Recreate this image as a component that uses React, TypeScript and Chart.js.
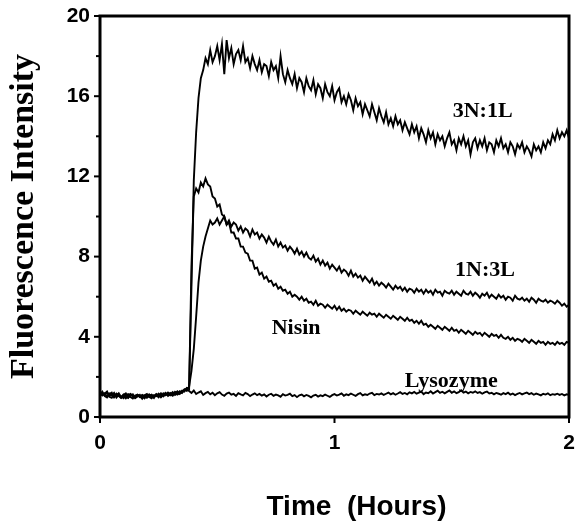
import React, { useEffect, useRef } from "react";
import { Chart, registerables } from "chart.js";

Chart.register(...registerables);

// Sampling: one reading every 0.01 h from 0 to 2 h
const T_START = 0;
const T_STEP = 0.01;

const N3L1: number[] = [
  1.25, 1.08, 1.18, 1.02, 1.15, 1.22, 0.98, 1.12, 1.05, 0.95,
  1.10, 1.18, 0.97, 1.06, 1.13, 0.94, 1.02, 1.11, 0.96, 1.08,
  1.15, 1.00, 0.93, 1.09, 1.04, 1.16, 0.99, 1.12, 1.21, 1.05,
  1.14, 1.24, 1.10, 1.18, 1.29, 1.20, 1.35, 1.42, 1.50, 6.5,
  11.8, 14.2, 15.9, 16.9, 17.3, 17.9, 17.6, 18.3, 17.7, 18.0,
  18.5, 17.8, 18.6, 17.1, 18.8, 17.9, 18.4, 17.6, 18.1, 18.3,
  17.8, 18.5, 17.7, 17.9, 17.4, 18.0, 17.6, 17.3, 17.8, 17.2,
  17.6, 17.5, 17.0, 17.7, 17.3, 17.5, 16.9, 18.0, 17.1, 16.7,
  17.3, 16.9, 16.6, 17.1, 16.4, 16.9, 16.7, 16.2, 16.9, 16.5,
  16.3, 16.8, 16.1, 16.6, 16.4, 15.9, 16.6, 16.2, 16.0, 16.5,
  15.8, 16.2, 16.4, 15.7, 16.0, 15.6, 16.1, 15.8, 15.3, 15.9,
  15.5, 15.7, 15.1, 15.6, 15.3, 15.0, 15.6, 15.2, 14.8, 15.4,
  15.0, 14.7, 15.2, 14.6, 14.9, 14.5, 15.0, 14.6, 14.8, 14.3,
  14.7, 14.4, 14.1, 14.6, 14.2, 14.5, 13.9, 14.4, 14.1, 13.7,
  14.3, 13.9, 14.2, 13.6, 14.1, 13.8, 14.0, 13.5, 13.9, 14.2,
  13.6, 13.8, 13.3, 13.9, 13.6, 14.0, 13.5, 13.8, 13.1, 13.7,
  13.9, 13.4, 13.8, 13.5, 13.9, 13.3, 13.7, 13.6, 13.2, 13.8,
  13.5, 13.9, 13.4, 13.6, 13.2, 13.7, 13.5, 13.1, 13.6, 13.4,
  13.7, 13.2, 13.5, 13.3, 13.0, 13.6, 13.3, 13.5, 13.2, 13.7,
  13.4, 13.8, 13.6, 14.1, 13.8, 14.3, 13.9, 14.2, 14.0, 14.3,
  13.9,
];

const N1L3: number[] = [
  1.05, 1.19, 1.10, 1.24, 1.01, 0.96, 1.14, 1.07, 1.18, 0.99,
  1.04, 0.93, 1.07, 1.15, 1.02, 0.96, 1.10, 1.04, 0.91, 1.06,
  1.01, 1.11, 1.06, 0.95, 1.12, 1.08, 1.18, 1.03, 1.14, 1.10,
  1.20, 1.09, 1.17, 1.28, 1.15, 1.24, 1.38, 1.30, 1.52, 2.3,
  3.4, 5.0, 6.7, 7.8, 8.5, 9.0, 9.4, 9.8, 9.6, 9.7,
  9.9, 9.6, 9.8, 10.0, 9.6, 9.8, 9.5, 9.7, 9.6, 9.3,
  9.5, 9.2, 9.4, 9.3, 9.0, 9.35, 9.1, 9.2, 8.9, 9.1,
  8.95, 8.7, 9.0, 8.75, 8.6, 8.85, 8.5, 8.7, 8.45, 8.55,
  8.3, 8.5, 8.35, 8.15, 8.4, 8.1, 8.25, 8.0, 8.2, 7.95,
  7.85, 8.05, 7.75, 7.9, 7.6, 7.8, 7.55, 7.7, 7.4, 7.6,
  7.45, 7.3, 7.5, 7.2, 7.35, 7.25, 7.05, 7.3, 7.0, 7.15,
  6.95, 7.05, 6.8, 7.0, 6.85, 6.7, 6.9, 6.6, 6.75, 6.55,
  6.7, 6.6, 6.45, 6.65, 6.5, 6.35, 6.55, 6.4, 6.5, 6.3,
  6.45, 6.25, 6.4, 6.35, 6.2, 6.4, 6.25, 6.35, 6.15, 6.35,
  6.2, 6.3, 6.1, 6.35, 6.2, 6.25, 6.05, 6.3, 6.2, 6.15,
  6.3, 6.1, 6.25, 6.15, 6.05, 6.3, 6.15, 6.1, 6.25, 6.05,
  6.2, 6.1, 5.95, 6.15, 6.05, 6.2, 5.95, 6.1, 6.0, 5.9,
  6.1, 5.95, 6.05, 5.85, 6.0, 5.95, 5.8, 6.05, 5.9, 5.85,
  5.95, 5.8, 5.9, 5.75, 5.95, 5.85, 5.7, 5.9, 5.8, 5.75,
  5.85, 5.7, 5.8, 5.75, 5.65, 5.8, 5.7, 5.55, 5.65, 5.5,
  5.6,
];

const NISIN: number[] = [
  1.12, 1.26, 1.05, 0.98, 1.17, 1.08, 1.20, 0.97, 1.10, 1.03,
  0.94, 1.09, 1.14, 1.00, 0.92, 1.07, 1.12, 0.99, 1.05, 0.93,
  1.08, 1.13, 0.97, 1.03, 1.15, 1.07, 1.01, 1.18, 1.09, 1.22,
  1.13, 1.06, 1.25, 1.17, 1.21, 1.32, 1.27, 1.45, 1.40, 7.5,
  11.0, 11.4, 11.2, 11.7, 11.5, 11.9, 11.6, 11.5, 11.0, 10.9,
  10.5, 10.6, 10.1, 10.0, 9.6, 9.7, 9.2, 9.2, 8.9, 8.9,
  8.5, 8.5, 8.2, 8.15, 7.8, 7.8, 7.4, 7.45, 7.1, 7.2,
  6.9, 7.0, 6.75, 6.8, 6.55, 6.65, 6.4, 6.5, 6.3, 6.35,
  6.15, 6.25, 6.0, 6.1, 6.0, 5.85, 6.0, 5.8, 5.9, 5.7,
  5.75, 5.6, 5.8, 5.55, 5.65, 5.6, 5.45, 5.6, 5.5, 5.4,
  5.55, 5.35, 5.5, 5.3, 5.4, 5.25, 5.35, 5.3, 5.15, 5.3,
  5.2, 5.1, 5.25, 5.15, 5.05, 5.2, 5.1, 5.15, 5.0, 5.15,
  5.05, 4.95, 5.1, 5.0, 4.9, 5.05, 4.95, 4.85, 5.0, 4.9,
  4.8, 4.95, 4.8, 4.85, 4.7, 4.8, 4.65, 4.8, 4.6, 4.65,
  4.5, 4.6, 4.5, 4.4, 4.55, 4.45, 4.35, 4.5, 4.4, 4.3,
  4.45, 4.3, 4.35, 4.2, 4.35, 4.25, 4.15, 4.3, 4.2, 4.1,
  4.25, 4.15, 4.2, 4.05, 4.2, 4.1, 4.0, 4.15, 4.05, 4.1,
  3.95, 4.1, 3.95, 3.9, 4.0, 3.85, 3.95, 3.8, 3.9, 3.85,
  3.75, 3.9, 3.8, 3.7, 3.85, 3.75, 3.65, 3.8, 3.7, 3.75,
  3.6, 3.75, 3.65, 3.7, 3.6, 3.75, 3.65, 3.7, 3.6, 3.75,
  3.7,
];

const LYSOZYME: number[] = [
  1.20, 1.09, 1.16, 1.27, 1.04, 1.13, 1.00, 1.17, 1.08, 0.97,
  1.12, 1.03, 0.95, 1.14, 1.05, 0.99, 1.09, 1.01, 1.10, 1.04,
  0.96, 1.06, 1.12, 1.02, 1.09, 0.98, 1.15, 1.06, 1.11, 1.19,
  1.08, 1.16, 1.23, 1.12, 1.19, 1.26, 1.32, 1.40, 1.30, 1.20,
  1.32, 1.15, 1.22, 1.28, 1.10, 1.19, 1.25, 1.13, 1.21, 1.09,
  1.18, 1.24, 1.12, 1.06, 1.17, 1.22, 1.11, 1.15, 1.05, 1.19,
  1.13, 1.08, 1.20, 1.14, 1.04, 1.12, 1.18, 1.09, 1.15, 1.07,
  1.13, 1.02, 1.11, 1.16, 1.06, 1.12, 1.08, 1.01, 1.14, 1.07,
  1.10, 1.16, 1.04, 1.09, 0.99, 1.08, 1.12, 1.03, 1.10, 1.05,
  0.98, 1.07, 1.11, 1.02, 1.08, 1.04, 1.12, 1.06, 1.00, 1.09,
  1.14, 1.07, 1.12, 1.18, 1.06, 1.13, 1.09, 1.17, 1.11, 1.05,
  1.14, 1.19, 1.08, 1.13, 1.10, 1.17, 1.21, 1.09, 1.15, 1.12,
  1.18, 1.10, 1.16, 1.22, 1.13, 1.19, 1.11, 1.17, 1.24, 1.15,
  1.20, 1.13, 1.23, 1.18, 1.25, 1.16, 1.21, 1.27, 1.14, 1.22,
  1.19, 1.28, 1.17, 1.24, 1.31, 1.20, 1.26, 1.18, 1.25, 1.32,
  1.21, 1.28, 1.19, 1.24, 1.33, 1.22, 1.27, 1.18, 1.25, 1.21,
  1.28, 1.20, 1.24, 1.16, 1.23, 1.27, 1.17, 1.21, 1.13, 1.20,
  1.16, 1.11, 1.19, 1.14, 1.21, 1.12, 1.17, 1.09, 1.15, 1.20,
  1.13, 1.18, 1.22, 1.14, 1.19, 1.11, 1.17, 1.13, 1.08, 1.16,
  1.12, 1.18, 1.09, 1.14, 1.11, 1.16, 1.10, 1.15, 1.08, 1.13,
  1.10,
];

const SERIES_NAMES = ["3N:1L", "1N:3L", "Nisin", "Lysozyme"];
const Y_TICKS = [0, 4, 8, 12, 16, 20];
const X_TICKS = [0, 1, 2];

// Curve labels: text anchored (left, baseline) at data coordinates
const CURVE_LABELS = [
  { text: "3N:1L", x: 1.504, y: 14.98 },
  { text: "1N:3L", x: 1.514, y: 7.03 },
  { text: "Nisin", x: 0.732, y: 4.14 },
  { text: "Lysozyme", x: 1.3, y: 1.51 },
];

const X_TITLE = "Time  (Hours)";
const Y_TITLE = "Fluorescence Intensity";

const toPoints = (vals: number[]) =>
  vals.map((v, i) => ({ x: T_START + i * T_STEP, y: v }));

const decorPlugin = {
  id: "decor",
  afterDraw(chart: any) {
    const { ctx, chartArea } = chart;
    const xs = chart.scales.x;
    const ys = chart.scales.y;
    const { left, right, top, bottom } = chartArea;
    ctx.save();
    ctx.strokeStyle = "#000";
    ctx.fillStyle = "#000";
    // frame
    ctx.lineWidth = 3;
    ctx.strokeRect(left, top, right - left, bottom - top);
    // y ticks (major + minor)
    ctx.lineWidth = 2;
    for (let v = 0; v <= 20; v += 2) {
      const py = ys.getPixelForValue(v);
      const len = v % 4 === 0 ? 6 : 4;
      ctx.beginPath();
      ctx.moveTo(left - len, py);
      ctx.lineTo(left, py);
      ctx.stroke();
    }
    X_TICKS.forEach((v) => {
      const px = xs.getPixelForValue(v);
      ctx.beginPath();
      ctx.moveTo(px, bottom);
      ctx.lineTo(px, bottom + 6);
      ctx.stroke();
    });
    // curve labels
    ctx.font = 'bold 22px "Liberation Serif", "Times New Roman", serif';
    ctx.textAlign = "left";
    ctx.textBaseline = "alphabetic";
    CURVE_LABELS.forEach((l) => {
      ctx.fillText(l.text, xs.getPixelForValue(l.x), ys.getPixelForValue(l.y));
    });
    // x title
    ctx.font = 'bold 28px "Liberation Sans", Arial, sans-serif';
    ctx.textAlign = "center";
    ctx.fillText(X_TITLE, (left + right) / 2 + 22, bottom + 98);
    // y title
    ctx.save();
    ctx.translate(left - 67, (top + bottom) / 2);
    ctx.rotate(-Math.PI / 2);
    ctx.font = 'bold 34px "Liberation Serif", "Times New Roman", serif';
    ctx.textAlign = "center";
    ctx.textBaseline = "alphabetic";
    ctx.fillText(Y_TITLE, 0, 0);
    ctx.restore();
    ctx.restore();
  },
};

export default function App() {
  const ref = useRef<HTMLCanvasElement | null>(null);
  useEffect(() => {
    if (!ref.current) return;
    const seriesVals = [N3L1, N1L3, NISIN, LYSOZYME];
    const chart = new Chart(ref.current, {
      type: "line",
      data: {
        datasets: seriesVals.map((vals, i) => ({
          label: SERIES_NAMES[i],
          data: toPoints(vals),
          borderColor: "#000",
          borderWidth: 1.9,
          pointRadius: 0,
          tension: 0,
          fill: false,
        })),
      },
      options: {
        responsive: false,
        animation: false,
        devicePixelRatio: 1,
        layout: { padding: { left: 0, right: 9, top: 16, bottom: 0 } },
        plugins: {
          legend: { display: false },
          tooltip: { enabled: false },
          title: { display: false },
        },
        scales: {
          x: {
            type: "linear",
            min: 0,
            max: 2,
            afterBuildTicks: (s: any) => {
              s.ticks = X_TICKS.map((v) => ({ value: v }));
            },
            afterFit: (s: any) => {
              s.height = 104;
              s.paddingLeft = 0;
              s.paddingRight = 0;
            },
            ticks: {
              color: "#000",
              padding: 14,
              maxRotation: 0,
              font: { family: '"Liberation Sans", Arial, sans-serif', size: 21, weight: "bold" },
            },
            grid: { display: false, drawTicks: false },
            border: { display: false },
          },
          y: {
            min: 0,
            max: 20,
            afterBuildTicks: (s: any) => {
              s.ticks = Y_TICKS.map((v) => ({ value: v }));
            },
            afterFit: (s: any) => {
              s.width = 100;
              s.paddingTop = 0;
              s.paddingBottom = 0;
            },
            ticks: {
              color: "#000",
              padding: 10,
              font: { family: '"Liberation Sans", Arial, sans-serif', size: 21, weight: "bold" },
            },
            grid: { display: false, drawTicks: false },
            border: { display: false },
          },
        },
      },
      plugins: [decorPlugin],
    });
    return () => chart.destroy();
  }, []);
  return (
    <div style={{ position: "fixed", left: 0, top: 0, width: 578, height: 521, background: "#fff" }}>
      <canvas ref={ref} width={578} height={521} style={{ display: "block" }} />
    </div>
  );
}
